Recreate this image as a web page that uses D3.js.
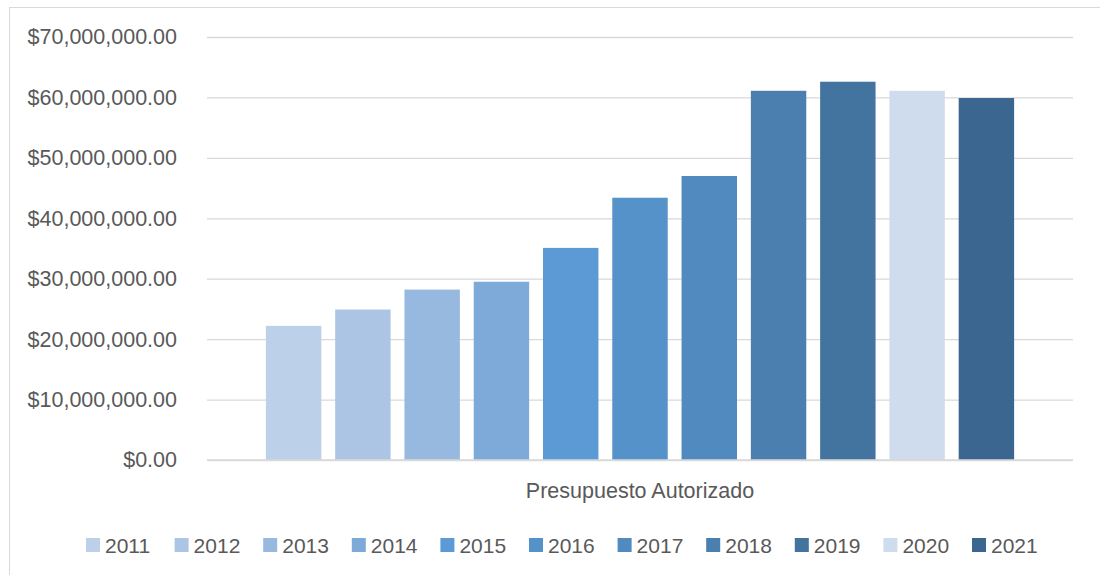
<!DOCTYPE html>
<html>
<head>
<meta charset="utf-8">
<script src="https://cdn.jsdelivr.net/npm/d3@7"></script>
<style>
  body { margin: 0; background: #fff; }
  text { font-family: "Liberation Sans", Arial, sans-serif; fill: #595959; }
</style>
</head>
<body>
<svg id="chart" width="1100" height="575"></svg>
<script>
// --- Data ---
const category = "Presupuesto Autorizado";
const years = ["2011", "2012", "2013", "2014", "2015", "2016", "2017", "2018", "2019", "2020", "2021"];
const values = [22200000, 24900000, 28200000, 29500000, 35100000, 43400000, 47000000, 61100000, 62600000, 61100000, 59900000];
const colors = ["#bdd0e9", "#adc5e5", "#98b9df", "#7eaad9", "#5b9ad5", "#5592c9", "#508abf", "#4a7faf", "#43749f", "#cfdcee", "#3a6690"];
const yTicks = [0, 10000000, 20000000, 30000000, 40000000, 50000000, 60000000, 70000000];

const svg = d3.select("#chart");
const margin = {left: 207, right: 27, top: 37, bottom: 115};
const width = 1100 - margin.left - margin.right;
const height = 575 - margin.top - margin.bottom;

// chart border (right and bottom edges fall outside the picture)
svg.append("rect")
    .attr("x", 9.5).attr("y", 7.5)
    .attr("width", 1110).attr("height", 580)
    .attr("fill", "none")
    .attr("stroke", "#d9d9d9");

const g = svg.append("g").attr("transform", `translate(${margin.left},${margin.top})`);

const y = d3.scaleLinear().domain([0, 70000000]).range([height, 0]);
const x = d3.scaleBand().domain(years).range([0, width]).paddingInner(0.2).paddingOuter(0.85);

const fmt = d => "$" + d3.format(",.2f")(d);

// --- Gridlines + y labels ---
const yAxis = g.append("g")
    .call(d3.axisLeft(y).tickValues(yTicks).tickSize(-width).tickFormat(fmt).tickPadding(30));
yAxis.select(".domain").remove();
yAxis.selectAll(".tick line").attr("stroke", "#d9d9d9").attr("stroke-width", 1.3);
yAxis.selectAll(".tick text")
    .attr("font-size", 21.5)
    .attr("fill", "#595959")
    .attr("font-family", "Liberation Sans, Arial, sans-serif");

// --- Bars ---
g.selectAll("rect.bar")
    .data(years)
    .enter()
    .append("rect")
    .attr("class", "bar")
    .attr("x", d => x(d))
    .attr("width", x.bandwidth())
    .attr("y", (d, i) => y(values[i]))
    .attr("height", (d, i) => height - y(values[i]))
    .attr("fill", (d, i) => colors[i]);

// baseline on top of bars
g.append("line")
    .attr("x1", 0).attr("x2", width)
    .attr("y1", y(0)).attr("y2", y(0))
    .attr("stroke", "#d9d9d9").attr("stroke-width", 1.3);

// --- Category label ---
g.append("text")
    .attr("x", 640 - margin.left)
    .attr("y", height + 38)
    .attr("text-anchor", "middle")
    .attr("font-size", 21.5)
    .text(category);

// --- Legend ---
const legStep = 88.6;
const legend = svg.append("g").attr("transform", "translate(86,538)");
const item = legend.selectAll("g")
    .data(years)
    .enter()
    .append("g")
    .attr("transform", (d, i) => `translate(${i * legStep},0)`);
item.append("rect")
    .attr("width", 14).attr("height", 14)
    .attr("fill", (d, i) => colors[i]);
item.append("text")
    .attr("x", 19).attr("y", 14.5)
    .attr("font-size", 21)
    .text(d => d);
</script>
</body>
</html>
